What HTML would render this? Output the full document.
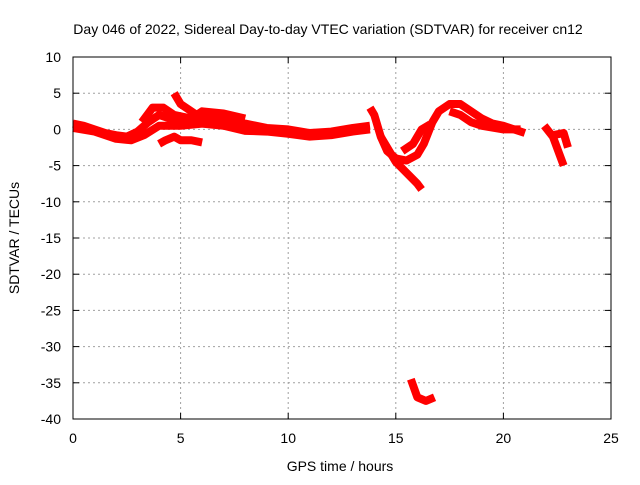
<!DOCTYPE html>
<html><head><meta charset="utf-8"><style>
body{margin:0;background:#fff}
svg text{font-family:"Liberation Sans",sans-serif;font-size:14px;fill:#000}
</style></head><body>
<svg id="chart" width="640" height="480">
<text x="328" y="34" text-anchor="middle">Day 046 of 2022, Sidereal Day-to-day VTEC variation (SDTVAR) for receiver cn12</text>
<text x="340" y="471" text-anchor="middle">GPS time / hours</text>
<text transform="translate(19,238) rotate(-90)" text-anchor="middle">SDTVAR / TECUs</text>
<g id="grid"></g><g id="series"></g>
<rect x="73" y="57" width="538" height="362" fill="none" stroke="#000"/>
</svg>
<script>
const xTicks=[0,5,10,15,20,25];
const yTicks=[10,5,0,-5,-10,-15,-20,-25,-30,-35,-40];
const trackA=[[0,0.8],[0.5,0.5],[1,0],[1.5,-0.5],[2,-0.8],[2.5,-1],[3,-0.3],[3.5,1],[4,2],[4.5,1.5],[5,1],[6,1.5],[7,1.5],[8,0.8],[9,0.2],[10,0],[11,-0.5],[12,-0.3],[13,0.2],[13.8,0.5]];
const trackA2=[[0,0.2],[1,-0.3],[2,-1.3],[2.7,-1.5],[3.3,-0.8],[4,0.5],[5,0.5],[6,0.8],[7,0.5],[8,-0.2],[9,-0.3],[10,-0.6],[11,-1],[12,-0.8],[13,-0.3],[13.8,0]];
const trackB=[[3.2,1],[3.7,3],[4.2,3],[4.7,2],[5.5,1.5],[6,2.5],[7,2.2],[8,1.5]];
const trackC=[[4.7,5],[5,3.5],[5.5,2.5],[6,1.5],[7,0.5]];
const trackD=[[4,-2],[4.3,-1.5],[4.7,-1],[5,-1.5],[5.5,-1.5],[6,-1.8]];
const trackE=[[13.8,3],[14,2],[14.3,-1],[14.6,-3],[15,-4],[15.5,-4.3],[16,-3.5],[16.3,-2],[16.5,-0.5],[16.7,1],[17,2.5],[17.5,3.5],[18,3.5],[18.5,2.5],[19,1.5],[19.5,0.8],[20,0.5],[20.5,0],[21,-0.5]];
const trackF=[[14.3,-1],[15,-4.5],[15.5,-6],[16,-7.5],[16.2,-8.3]];
const trackG=[[15.3,-3],[15.8,-2],[16.2,0],[16.6,0.7]];
const trackH=[[17.5,2.5],[18,2],[18.5,1],[19,0.5],[20,0],[20.8,0]];
const trackI=[[21.9,0.5],[22.3,-1],[22.8,-5]];
const trackJ=[[22.3,-0.8],[22.8,-0.5],[23,-2.5]];
const trackK=[[15.7,-34.5],[16,-37],[16.4,-37.5],[16.8,-37]];
const tracks=[trackA,trackA2,trackB,trackC,trackD,trackE,trackF,trackG,trackH,trackI,trackJ,trackK];
const NS="http://www.w3.org/2000/svg";
const xs=t=>73+t*538/25, ys=v=>57+(10-v)*362/50;
const grid=document.getElementById('grid'), ser=document.getElementById('series');
function mk(tag,a,p){const e=document.createElementNS(NS,tag);for(const k in a)e.setAttribute(k,a[k]);p.appendChild(e);return e;}
xTicks.forEach(t=>{const x=xs(t);
 if(t>0&&t<25){const l=mk('line',{x1:x,x2:x,y1:57,y2:419,stroke:'#a0a0a0','stroke-dasharray':'2,3'},grid);
 
 }
 mk('line',{x1:x,x2:x,y1:419,y2:413,stroke:'#000'},grid);mk('line',{x1:x,x2:x,y1:57,y2:63,stroke:'#000'},grid);
 const tx=mk('text',{x:x,y:443,'text-anchor':'middle'},grid);tx.textContent=t;
 
 });
yTicks.forEach(v=>{const y=ys(v);
 if(v<10&&v>-40){const l=mk('line',{x1:73,x2:611,y1:y,y2:y,stroke:'#a0a0a0','stroke-dasharray':'2,3'},grid);
 
 }
 mk('line',{x1:73,x2:79,y1:y,y2:y,stroke:'#000'},grid);mk('line',{x1:611,x2:605,y1:y,y2:y,stroke:'#000'},grid);
 const tx=mk('text',{x:61,y:y+5,'text-anchor':'end'},grid);tx.textContent=v;
 
 });
tracks.forEach(tr=>{const p=mk('polyline',{points:tr.map(d=>xs(d[0])+','+ys(d[1])).join(' '),fill:'none',stroke:'#f00','stroke-width':8,'stroke-linejoin':'round','stroke-linecap':'butt'},ser);
 
 });
</script>
</body></html>
